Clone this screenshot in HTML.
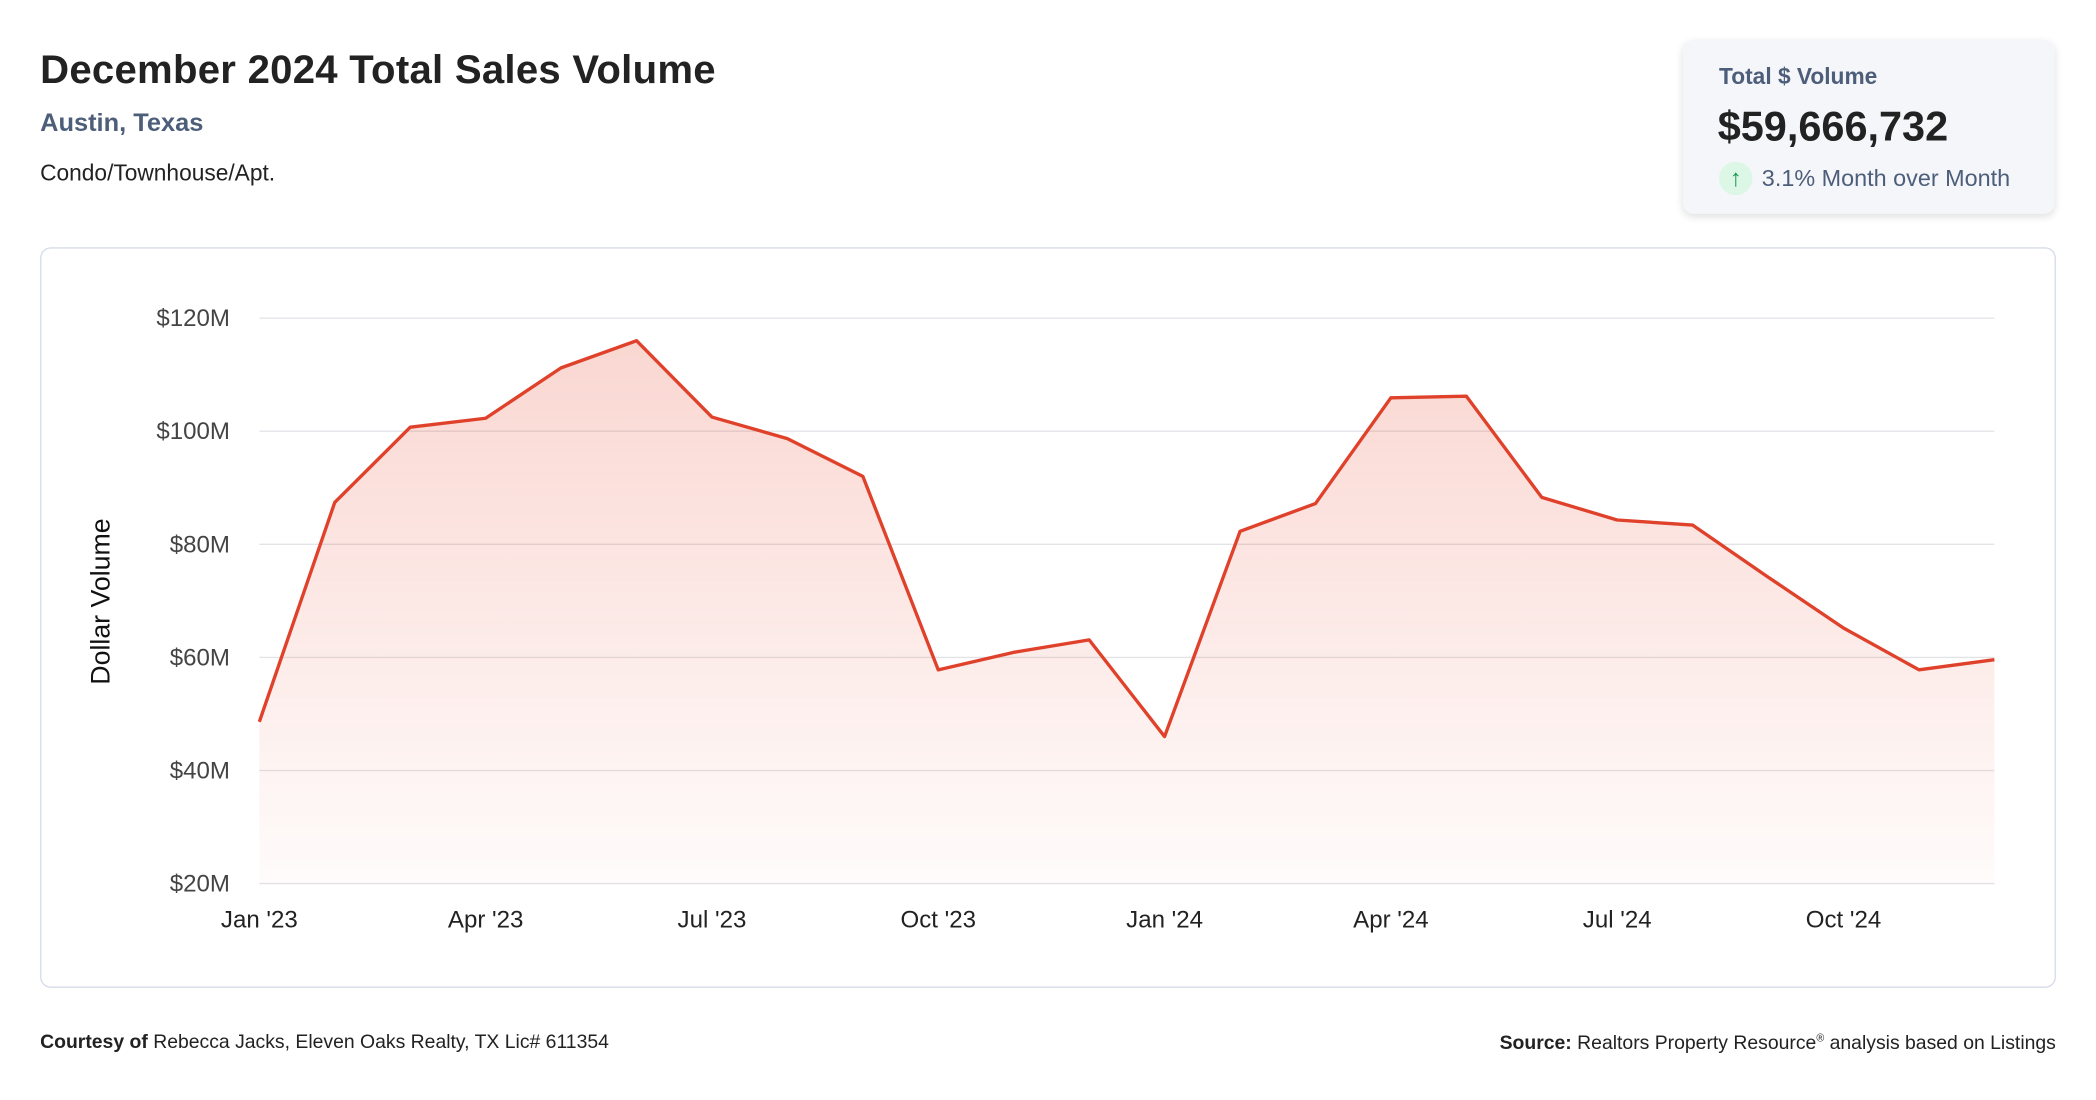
<!DOCTYPE html>
<html><head><meta charset="utf-8"><style>
html,body{margin:0;padding:0;background:#fff;width:2096px;height:1100px;overflow:hidden}
#wrap{position:absolute;left:0;top:0;width:1568px;height:823px;transform:scale(1.33673);transform-origin:0 0;font-family:"Liberation Sans",sans-serif}
.abs{position:absolute;white-space:nowrap}
</style></head><body>
<div id="wrap">
<div class="abs" style="left:30px;top:36px;font-size:30px;font-weight:bold;color:#222;letter-spacing:0.2px">December 2024 Total Sales Volume</div>
<div class="abs" style="left:30px;top:82px;font-size:19px;font-weight:bold;color:#4d5e7a">Austin, Texas</div>
<div class="abs" style="left:30px;top:120px;font-size:17px;color:#222">Condo/Townhouse/Apt.</div>
<div class="abs" style="left:1259px;top:30px;width:278px;height:130px;background:#f5f6fa;border-radius:8px;box-shadow:0 2px 6px rgba(0,0,0,0.12)">
 <div class="abs" style="left:27px;top:18px;font-size:17px;font-weight:bold;color:#4d5e7a">Total $ Volume</div>
 <div class="abs" style="left:26px;top:47px;font-size:31px;font-weight:bold;color:#222">$59,666,732</div>
 <div class="abs" style="left:27px;top:91px;width:25px;height:25px;border-radius:50%;background:#dcf7e6;color:#1a9a55;font-size:18px;text-align:center;line-height:25px">↑</div>
 <div class="abs" style="left:59px;top:93px;font-size:17.5px;color:#4d5e7a">3.1% Month over Month</div>
</div>
<div class="abs" style="left:30px;top:185px;width:1506px;height:552px;border:1px solid #d6dce6;border-radius:8px"></div>
<svg class="abs" style="left:0;top:0" width="1568" height="823" id="chart">
<defs><linearGradient id="g" x1="0" y1="0" x2="0" y2="1"><stop offset="0" stop-color="#e8482f" stop-opacity="0.22"/><stop offset="1" stop-color="#e8482f" stop-opacity="0.02"/></linearGradient></defs>
<text x="82" y="450" transform="rotate(-90 82 450)" text-anchor="middle" font-size="20" fill="#111">Dollar Volume</text>
</svg>
<div class="abs" style="left:30px;top:772px;font-size:14.5px;color:#222"><b>Courtesy of</b> Rebecca Jacks, Eleven Oaks Realty, TX Lic# 611354</div>
<div class="abs" style="right:30px;top:772px;font-size:14.5px;color:#222"><b>Source:</b> Realtors Property Resource<sup style="font-size:8px">®</sup> analysis based on Listings</div>
</div>
<script>
const values=[48.6,87.4,100.7,102.3,111.2,116,102.5,98.7,92,57.8,60.9,63.1,46,82.3,87.2,105.9,106.2,88.3,84.3,83.4,74.2,65.2,57.8,59.6];
const yTicks=[20,40,60,80,100,120];
const yTickLabels=["$20M","$40M","$60M","$80M","$100M","$120M"];
const xTickIdx=[0,3,6,9,12,15,18,21];
const xTickLabels=["Jan '23","Apr '23","Jul '23","Oct '23","Jan '24","Apr '24","Jul '24","Oct '24"];
const NS="http://www.w3.org/2000/svg";
const svg=document.getElementById('chart');
const x0=194,x1=1492,yTop=238,yBot=661;
const xs=i=>x0+(x1-x0)*i/(values.length-1);
const ys=v=>yBot-(v-20)/(120-20)*(yBot-yTop);
function mk(t,a){const e=document.createElementNS(NS,t);for(const k in a)e.setAttribute(k,a[k]);svg.appendChild(e);return e;}
yTicks.forEach((v,i)=>{
 const l=mk('line',{x1:x0,x2:x1,y1:ys(v),y2:ys(v),stroke:'#e2e4e8','stroke-width':1});
 
 
 const t=mk('text',{x:172,y:ys(v)+6,'text-anchor':'end','font-size':18,fill:'#444'});
 t.textContent=yTickLabels[i];
 
 
});
xTickIdx.forEach((idx,i)=>{
 const t=mk('text',{x:xs(idx),y:694,'text-anchor':'middle','font-size':18,fill:'#222'});
 t.textContent=xTickLabels[i];
 
 
});
let pts=values.map((v,i)=>xs(i).toFixed(1)+','+ys(v).toFixed(1));
const area=mk('path',{d:'M'+xs(0)+','+yBot+' L'+pts.join(' L')+' L'+xs(values.length-1)+','+yBot+' Z',fill:'url(#g)'});


const line=mk('path',{d:'M'+pts.join(' L'),fill:'none',stroke:'#e0412b','stroke-width':2.5,'stroke-linejoin':'round'});


</script>
</body></html>
